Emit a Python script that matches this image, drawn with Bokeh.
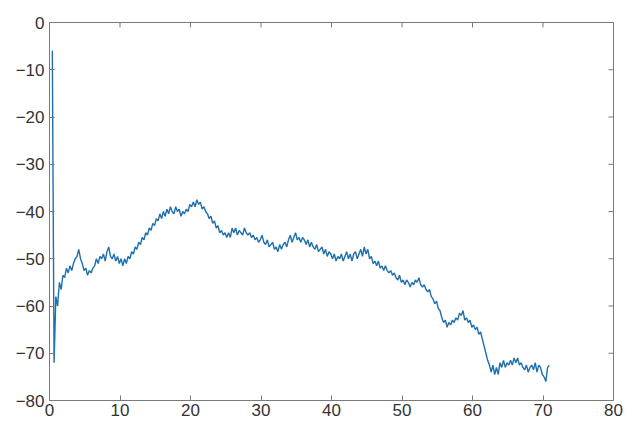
from bokeh.plotting import figure
from bokeh.models import Range1d, FixedTicker, ColumnDataSource
from bokeh.embed import file_html
from bokeh.resources import INLINE
import numpy as np

# ---- data ----
x_start = 0.4
x_step = 0.25
y_values = [
    -6, -72, -58, -60,
    -55, -56.5, -53.5, -54,
    -52, -53, -51.5, -52.5,
    -51, -50, -49.5, -48,
    -50, -51, -52.5, -52,
    -53.5, -52.5, -53, -52,
    -51.5, -50, -51, -49.5,
    -50, -49, -50.5, -48.5,
    -47.5, -49.5, -50, -49,
    -50.5, -49.5, -51, -50,
    -51.5, -50, -51, -49.5,
    -50, -48.5, -49, -47.5,
    -48, -46.5, -47, -45.5,
    -46, -44.5, -45, -43.5,
    -44, -42.5, -43, -41.5,
    -42, -40.5, -41.5, -40,
    -41, -39.5, -40.5, -39,
    -40, -40.5, -39, -40,
    -39.5, -41, -40, -40.5,
    -39.5, -40, -38.5, -39,
    -38, -39, -37.5, -38.5,
    -38, -39.5, -39, -40,
    -40.5, -41.5, -41, -42.5,
    -42, -43.5, -43, -44.5,
    -44, -45, -44.5, -45.5,
    -44.5, -45.5, -43.5, -44.5,
    -43.5, -45, -44, -44.5,
    -45, -43.5, -44.5, -45,
    -44.5, -45.5, -45, -46,
    -45.5, -46.5, -46, -45,
    -46.5, -47, -46, -47.5,
    -47, -46.5, -48, -47.5,
    -48.5, -47, -48, -47,
    -46.5, -47.5, -46, -45,
    -46.5, -45.5, -44.5, -46,
    -45.5, -46.5, -45.5, -46,
    -47, -46, -47.5, -46.5,
    -47.5, -48, -47, -48.5,
    -48, -47.5, -49, -48,
    -49.5, -48.5, -49, -50,
    -49, -50.5, -49.5, -50,
    -49, -50.5, -49.5, -48.5,
    -50, -49, -50.5, -49,
    -48.5, -50, -49, -48,
    -49.5, -47.5, -49, -48,
    -50, -49.5, -51, -50.5,
    -51.5, -50.5, -52, -51.5,
    -52.5, -51.5, -52.5, -53,
    -52.5, -53.5, -53, -54,
    -54.5, -53.5, -55, -54.5,
    -55.5, -54.5, -55, -56,
    -55, -55.5, -54.5, -55,
    -54, -55.5, -56, -55.5,
    -56.5, -57, -56.5, -58,
    -58.5, -59.5, -59, -60.5,
    -61, -62.5, -63.5, -63,
    -64.5, -63.5, -64, -63,
    -63.5, -62.5, -63, -61.5,
    -62, -61, -63, -62.5,
    -63.5, -63, -64.5, -64,
    -65, -64.5, -66, -65.5,
    -67, -68.5, -70, -71.5,
    -72.5, -74, -72.5, -74.5,
    -73, -74.5, -72, -73,
    -71.5, -73, -72, -72.5,
    -71.5, -72.5, -71, -72,
    -71, -72.5, -72, -73,
    -73.5, -72.5, -74, -73,
    -72.5, -73.5, -72, -74,
    -72.5, -73, -74.5, -75,
    -76, -73, -72.5,
]
x_values = [x_start + x_step * i for i in range(len(y_values))]

x_ticks = [0, 10, 20, 30, 40, 50, 60, 70, 80]
y_ticks = [-80, -70, -60, -50, -40, -30, -20, -10, 0]
x_min, x_max = 0, 80
y_min, y_max = -80, 0

src = ColumnDataSource(dict(x=x_values, y=y_values))

AXIS_COLOR = "#7a7a7a"
LABEL_COLOR = "#333333"
FONT = "Liberation Sans"
FS = "17px"

p = figure(
    frame_width=564, frame_height=378,
    x_range=Range1d(x_min, x_max), y_range=Range1d(y_min, y_max),
    output_backend="svg", toolbar_location=None,
    min_border_left=49, min_border_top=22, min_border_right=10, min_border_bottom=10,
    background_fill_color="white", border_fill_color="white",
)
p.grid.visible = False
p.outline_line_color = AXIS_COLOR

p.xaxis[0].ticker = FixedTicker(ticks=x_ticks)
p.yaxis[0].ticker = FixedTicker(ticks=y_ticks)
for ax in (p.xaxis[0], p.yaxis[0]):
    ax.axis_line_color = AXIS_COLOR
    ax.major_tick_line_color = AXIS_COLOR
    ax.major_tick_in = 5
    ax.major_tick_out = 0
    ax.minor_tick_line_color = None
    ax.major_label_text_font = FONT
    ax.major_label_text_font_size = FS
    ax.major_label_text_color = LABEL_COLOR
p.xaxis[0].major_label_standoff = 3
p.yaxis[0].major_label_standoff = 5

# inward tick marks on the top and right edges of the box (MATLAB style)
p.ray(x=x_ticks[1:-1], y=[y_max] * (len(x_ticks) - 2), length=5, length_units="screen",
      angle=-np.pi / 2, line_color=AXIS_COLOR, line_width=1)
p.ray(x=[x_max] * (len(y_ticks) - 2), y=y_ticks[1:-1], length=5, length_units="screen",
      angle=np.pi, line_color=AXIS_COLOR, line_width=1)

p.line("x", "y", source=src, line_color="#1f6fad", line_width=1.4)

open("out.html", "w").write(file_html(p, INLINE))
